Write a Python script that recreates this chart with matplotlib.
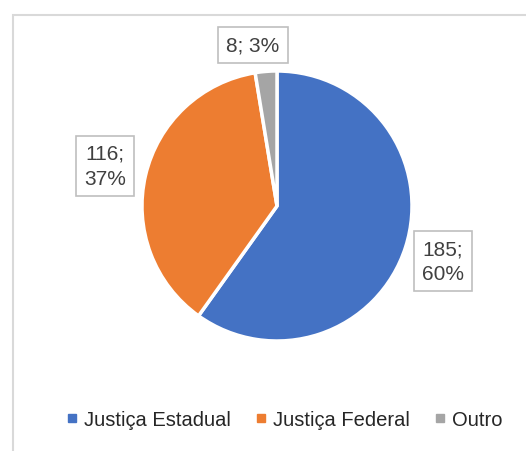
import matplotlib.pyplot as plt
from matplotlib.patches import Rectangle

# data
labels = ['Justiça Estadual', 'Justiça Federal', 'Outro']
values = [185, 116, 8]
pcts = ['60%', '37%', '3%']
colors = ['#4472C4', '#ED7D31', '#A5A5A5']

plt.rcParams['font.family'] = ['Liberation Sans', 'DejaVu Sans']

W, H = 526, 452
fig = plt.figure(figsize=(W / 100, H / 100), dpi=100)
ax = fig.add_axes([0, 0, 1, 1])
ax.set_xlim(0, W)
ax.set_ylim(0, H)
ax.set_aspect('equal')
ax.axis('off')

# chart frame (only top and left edges are inside the picture)
ax.add_patch(Rectangle((13, -10), W + 20, H - 16 + 10, fill=False,
                       edgecolor='#d9d9d9', linewidth=1.5))

wedges, _ = ax.pie(values, colors=colors, startangle=90, counterclock=False,
                   center=(277, H - 207), radius=135, explode=[0, 0.015, 0.03],
                   wedgeprops=dict(edgecolor='white', linewidth=2.5))
ax.set_xlim(0, W)
ax.set_ylim(0, H)

# data labels
label_pos = [(443, H - 262), (105, H - 167), (253, H - 46)]
texts = ['%d;\n%s' % (values[0], pcts[0]), '%d;\n%s' % (values[1], pcts[1]),
         '%d; %s' % (values[2], pcts[2])]
for (x, y), t in zip(label_pos, texts):
    ax.text(x, y, t, ha='center', va='center', fontsize=15, color='#404040',
            linespacing=1.4,
            bbox=dict(boxstyle='square,pad=0.4', facecolor='white',
                      edgecolor='#bfbfbf', linewidth=1.2))

# legend
handles = [plt.Line2D([], [], marker='s', linestyle='', markersize=6,
                      markerfacecolor=c, markeredgecolor=c) for c in colors]
ax.legend(handles, labels, loc='center', bbox_to_anchor=(282 / W, 1 - 421 / H),
          bbox_transform=fig.transFigure, ncol=3, frameon=False, fontsize=14.5,
          handletextpad=0.1, columnspacing=1.0, handlelength=1.0,
          labelcolor='#262626')

fig.savefig('out.png', dpi=100)
